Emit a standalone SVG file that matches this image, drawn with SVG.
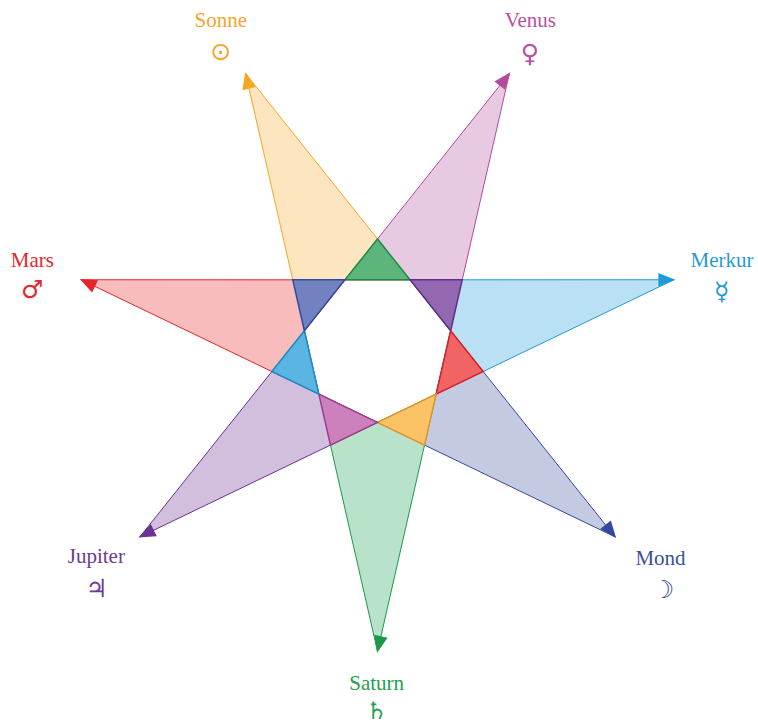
<svg xmlns="http://www.w3.org/2000/svg" width="758" height="725" viewBox="0 0 758 725">
<defs>
<style>
.lbl{font-family:"Liberation Serif","Times New Roman",serif;font-size:21px;text-anchor:middle}
.sym{font-family:"DejaVu Sans",sans-serif;font-size:25px;text-anchor:middle}
.dart{stroke-width:1;stroke-linejoin:miter}
.ov{stroke-width:1.5;stroke-linejoin:miter}
.so{fill:#fde5bf;stroke:#f5a623}
.ve{fill:#e8c9e2;stroke:#b44a9e}
.me{fill:#b9e1f3;stroke:#1d9ad8}
.mo{fill:#c5cae3;stroke:#34499c}
.sa{fill:#b8e2ca;stroke:#1c9a4a}
.ju{fill:#d2bfde;stroke:#6b3394}
.ma{fill:#f8bcbd;stroke:#e8242b}
.t-so{fill:#f5a52a}.t-ve{fill:#b84fa0}.t-me{fill:#1f9bd7}.t-mo{fill:#3a4fa0}.t-sa{fill:#22a050}.t-ju{fill:#6e3a96}.t-ma{fill:#e6262e}
</style>
<path id="ah" d="M0,0 L-17,-6.8 L-17,6.8 Z"/>
</defs>
<rect width="758" height="725" fill="#ffffff"/>
<g id="connectors">
  <path class="dart so" d="M245.60,73.51 L410.04,279.83 L344.96,279.83 L304.38,330.71 Z"/>
  <path class="dart ve" d="M509.40,73.51 L450.62,330.71 L410.04,279.83 L344.96,279.83 Z"/>
  <path class="dart me" d="M673.88,279.75 L436.14,394.16 L450.62,330.71 L410.04,279.83 Z"/>
  <path class="dart mo" d="M615.18,536.94 L377.5,422.4 L436.14,394.16 L450.62,330.71 Z"/>
  <path class="dart sa" d="M377.5,651.4 L318.86,394.16 L377.5,422.4 L436.14,394.16 Z"/>
  <path class="dart ju" d="M139.82,536.94 L304.38,330.71 L318.86,394.16 L377.5,422.4 Z"/>
  <path class="dart ma" d="M81.12,279.75 L344.96,279.83 L304.38,330.71 L318.86,394.16 Z"/>
  <g id="overlaps">
    <path class="ov" fill="#5cb67b" stroke="#1f8a45" d="M344.96,279.83 L410.04,279.83 L377.5,239.0 Z"/>
    <path class="ov" fill="#9468b0" stroke="#5d2f86" d="M410.04,279.83 L462.25,279.81 L450.62,330.71 Z"/>
    <path class="ov" fill="#f16464" stroke="#d3222a" d="M450.62,330.71 L483.18,371.52 L436.14,394.16 Z"/>
    <path class="ov" fill="#fbc266" stroke="#e0952a" d="M436.14,394.16 L424.53,445.06 L377.5,422.4 Z"/>
    <path class="ov" fill="#cc80bc" stroke="#9a3c88" d="M377.5,422.4 L330.47,445.06 L318.86,394.16 Z"/>
    <path class="ov" fill="#5bb5e2" stroke="#1a8ac4" d="M318.86,394.16 L271.82,371.52 L304.38,330.71 Z"/>
    <path class="ov" fill="#7282c0" stroke="#34499c" d="M304.38,330.71 L292.75,279.81 L344.96,279.83 Z"/>
  </g>
  <g id="arrowheads">
    <use href="#ah" fill="#f5a623" transform="translate(245.27,72.05) rotate(-102.857)"/>
    <use href="#ah" fill="#b44a9e" transform="translate(510.34,72.34) rotate(-51.429)"/>
    <use href="#ah" fill="#1d9ad8" transform="translate(675.38,279.75)"/>
    <use href="#ah" fill="#34499c" transform="translate(616.12,538.11) rotate(51.429)"/>
    <use href="#ah" fill="#1c9a4a" transform="translate(377.17,652.86) rotate(102.857)"/>
    <use href="#ah" fill="#6b3394" transform="translate(138.47,537.59) rotate(154.286)"/>
    <use href="#ah" fill="#e8242b" transform="translate(79.77,279.10) rotate(-154.286)"/>
  </g>
</g>
<g id="sonne"><text class="lbl t-so" x="220.8" y="27.3">Sonne</text><text class="sym t-so" x="220.7" y="59.5">⊙</text></g>
<g id="venus"><text class="lbl t-ve" x="530.3" y="27.3">Venus</text><text class="sym t-ve" x="530" y="62">♀</text></g>
<g id="merkur"><text class="lbl t-me" x="722" y="266.7">Merkur</text><text class="sym t-me" x="721.7" y="300">☿</text></g>
<g id="mond"><text class="lbl t-mo" x="660.5" y="565">Mond</text><text class="sym t-mo" x="663.3" y="598">☽</text></g>
<g id="saturn"><text class="lbl t-sa" x="376.7" y="690">Saturn</text><text class="sym t-sa" x="376.7" y="718.5" style="font-size:24px">♄</text></g>
<g id="jupiter"><text class="lbl t-ju" x="96.3" y="563.3">Jupiter</text><text class="sym t-ju" x="96.7" y="597">♃</text></g>
<g id="mars"><text class="lbl t-ma" x="32.3" y="266.7">Mars</text><text class="sym t-ma" x="32.3" y="297.5">♂</text></g>
</svg>
